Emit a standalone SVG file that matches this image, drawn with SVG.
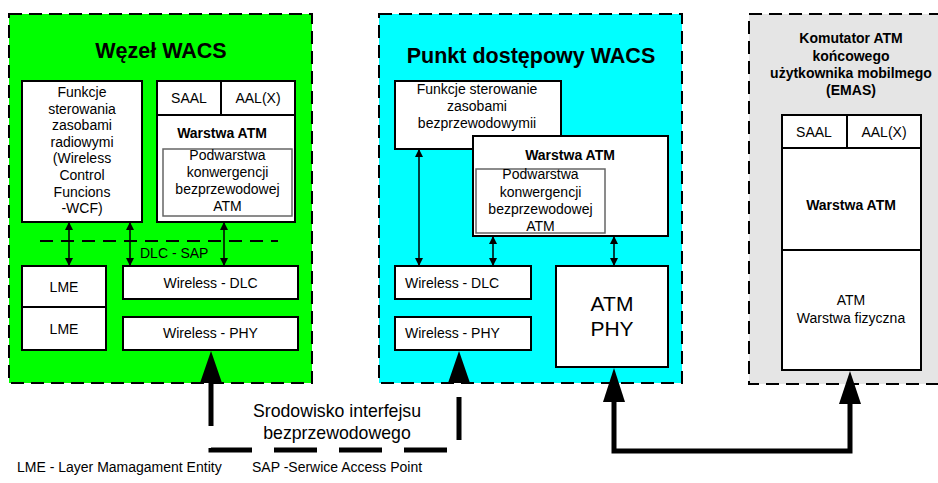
<svg xmlns="http://www.w3.org/2000/svg" width="938" height="483" viewBox="0 0 938 483">
<style>
text{font-family:"Liberation Sans",Arial,sans-serif;font-size:14px;fill:#000}
.c{text-anchor:middle}
.b{font-weight:bold}
.t{font-weight:bold;font-size:21.5px;text-anchor:middle}
.box{fill:#fff;stroke:#000;stroke-width:2}
.inner{fill:#fff;stroke:#666;stroke-width:1.5}
.outer{stroke:#000;stroke-width:2;stroke-dasharray:13 7}
.thin{stroke:#000;stroke-width:1.5;fill:none;marker-start:url(#sa);marker-end:url(#sa)}
.thick{stroke:#000;stroke-width:5;fill:none}
</style>
<defs>
<marker id="sa" viewBox="0 0 10 10" refX="10" refY="5" markerWidth="9" markerHeight="8" markerUnits="userSpaceOnUse" orient="auto-start-reverse"><path d="M0,0L10,5L0,10Z" fill="#000"/></marker>
</defs>

<g id="wezel">
<rect x="9" y="14" width="303" height="369" fill="#00ff00" class="outer"/>
<text x="161" y="58" class="t">Węzeł WACS</text>
</g>
<g id="wcf">
<rect x="22" y="81" width="120" height="141" class="box"/>
<text class="c" x="82" y="97">Funkcje</text>
<text class="c" x="82" y="113.6">sterowania</text>
<text class="c" x="82" y="130.2">zasobami</text>
<text class="c" x="82" y="146.8">radiowymi</text>
<text class="c" x="82" y="163.4">(Wireless</text>
<text class="c" x="82" y="180">Control</text>
<text class="c" x="82" y="196.6">Funcions</text>
<text class="c" x="82" y="213.2">-WCF)</text>
</g>
<g id="stack1">
<rect x="157" y="81" width="138" height="141" class="box"/>
<line x1="157" y1="115" x2="295" y2="115" stroke="#000" stroke-width="2"/>
<line x1="221" y1="81" x2="221" y2="115" stroke="#000" stroke-width="2"/>
<text class="c" x="189" y="103">SAAL</text>
<text class="c" x="258" y="103">AAL(X)</text>
<text class="c b" x="222" y="138">Warstwa ATM</text>
<rect x="163" y="149" width="129" height="67" class="inner"/>
<text class="c" x="227.5" y="160">Podwarstwa</text>
<text class="c" x="227.5" y="177">konwergencji</text>
<text class="c" x="227.5" y="194">bezprzewodowej</text>
<text class="c" x="227.5" y="211">ATM</text>
</g>
<g id="dlcsap">
<line x1="40" y1="241" x2="278" y2="241" stroke="#000" stroke-width="2" stroke-dasharray="13 8"/>
<text x="140" y="258">DLC - SAP</text>
</g>
<g id="lme">
<rect x="22" y="266" width="84" height="84" class="box"/>
<line x1="22" y1="307" x2="106" y2="307" stroke="#000" stroke-width="2"/>
<text class="c" x="64" y="291.5">LME</text>
<text class="c" x="64" y="333.5">LME</text>
</g>
<g id="wdlc1">
<rect x="123" y="266" width="175" height="33" class="box"/>
<text class="c" x="210.5" y="287.5">Wireless - DLC</text>
</g>
<g id="wphy1">
<rect x="123" y="317" width="175" height="33" class="box"/>
<text class="c" x="210.5" y="338">Wireless - PHY</text>
</g>

<g id="punkt">
<rect x="379" y="14" width="303" height="369" fill="#00ffff" class="outer"/>
<text x="531" y="63" class="t">Punkt dostępowy WACS</text>
</g>
<g id="funkcje2">
<rect x="395" y="81" width="166" height="68" class="box"/>
<text class="c" x="477" y="93.5">Funkcje sterowanie</text>
<text class="c" x="477" y="110.5">zasobami</text>
<text class="c" x="477" y="127.5">bezprzewodowymii</text>
</g>
<g id="atm2">
<rect x="473" y="136" width="195" height="100" class="box"/>
<text class="c b" x="570" y="160">Warstwa ATM</text>
<rect x="476" y="169" width="129" height="64" class="inner"/>
<text class="c" x="540.5" y="179">Podwarstwa</text>
<text class="c" x="540.5" y="196.5">konwergencji</text>
<text class="c" x="540.5" y="213.5">bezprzewodowej</text>
<text class="c" x="540.5" y="231">ATM</text>
</g>
<g id="wdlc2">
<rect x="395" y="266" width="136" height="33" class="box"/>
<text x="405" y="287.5">Wireless - DLC</text>
</g>
<g id="wphy2">
<rect x="395" y="317" width="136" height="33" class="box"/>
<text x="405" y="338">Wireless - PHY</text>
</g>
<g id="atmphy">
<rect x="556" y="266" width="112" height="101" class="box"/>
<text class="c" x="612" y="311" style="font-size:21px">ATM</text>
<text class="c" x="612" y="336" style="font-size:21px">PHY</text>
</g>

<g id="emas">
<rect x="749" y="14" width="200" height="370" fill="#e5e5e5" class="outer"/>
<text class="c b" x="851" y="43">Komutator ATM</text>
<text class="c b" x="851" y="61">końcowego</text>
<text class="c b" x="851" y="78">użytkownika mobilmego</text>
<text class="c b" x="851" y="95">(EMAS)</text>
</g>
<g id="stack3">
<rect x="782" y="115" width="139" height="255" class="box"/>
<line x1="782" y1="148" x2="921" y2="148" stroke="#000" stroke-width="2"/>
<line x1="847" y1="115" x2="847" y2="148" stroke="#000" stroke-width="2"/>
<line x1="782" y1="250" x2="921" y2="250" stroke="#000" stroke-width="2"/>
<text class="c" x="814" y="136.5">SAAL</text>
<text class="c" x="884" y="136.5">AAL(X)</text>
<text class="c b" x="851" y="210">Warstwa ATM</text>
<text class="c" x="851" y="305">ATM</text>
<text class="c" x="851" y="323">Warstwa fizyczna</text>
</g>

<g id="connectors">
<line x1="69" y1="222" x2="69" y2="266" class="thin"/>
<line x1="130" y1="222" x2="130" y2="266" class="thin"/>
<line x1="224" y1="222" x2="224" y2="266" class="thin"/>
<line x1="419" y1="149" x2="419" y2="266" class="thin"/>
<line x1="493" y1="236" x2="493" y2="266" class="thin"/>
<line x1="614" y1="236" x2="614" y2="266" class="thin"/>
<path d="M211,383V450H459V383" class="thick" stroke-dasharray="43 22"/>
<polygon points="211,351 200,383 222,383" fill="#000"/>
<polygon points="459,351 448,383 470,383" fill="#000"/>
<path d="M614,400V451H850V400" class="thick"/>
<polygon points="614,368 603,402 625,402" fill="#000"/>
<polygon points="850,371 839,404 861,404" fill="#000"/>
</g>

<g id="labels">
<text class="c" x="337" y="417" style="font-size:17.7px">Srodowisko interfejsu</text>
<text class="c" x="337" y="439" style="font-size:17.7px">bezprzewodowego</text>
<text x="17" y="472">LME - Layer Mamagament Entity</text>
<text x="252" y="472">SAP -Serwice Access Point</text>
</g>
</svg>
